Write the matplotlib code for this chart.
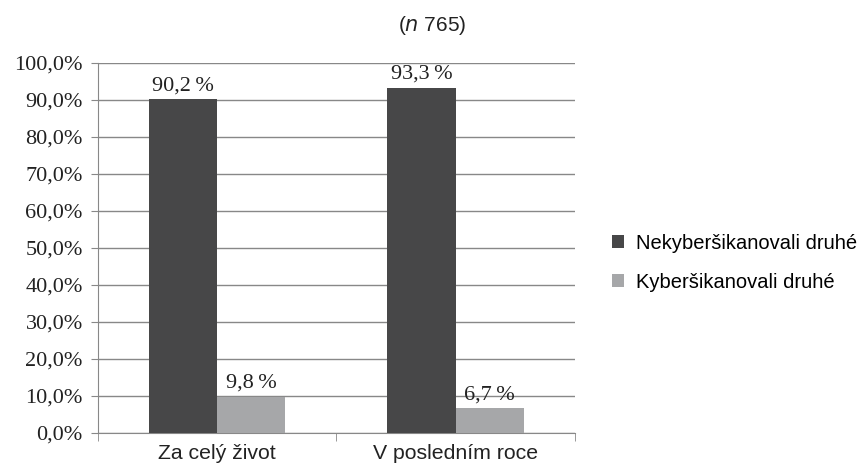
import numpy as np
import matplotlib
matplotlib.use("Agg")
import matplotlib.pyplot as plt
from matplotlib.ticker import FuncFormatter

categories = ["Za celý život", "V posledním roce"]
series_names = ["Nekyberšikanovali druhé", "Kyberšikanovali druhé"]
not_bullied = [90.2, 93.3]
bullied = [9.8, 6.7]
colors = ["#474748", "#a6a7a9"]

fig = plt.figure(figsize=(8.67, 4.65), dpi=100)
ax = fig.add_axes([0.113, 0.069, 0.55, 0.796])

x = np.arange(len(categories)) + 0.5
w = 0.286
b1 = ax.bar(x - w / 2, not_bullied, w, color=colors[0], label=series_names[0], zorder=3)
b2 = ax.bar(x + w / 2, bullied, w, color=colors[1], label=series_names[1], zorder=3)

for bars, vals in ((b1, not_bullied), (b2, bullied)):
    for r, v in zip(bars, vals):
        ax.text(r.get_x() + r.get_width() / 2, v + 1.0, ("%.1f" % v).replace(".", ",") + "\u2009%",
                ha="center", va="bottom", family="Liberation Serif", fontsize=16, color="#222222")

ax.set_xlim(0, 2)
ax.set_ylim(0, 100)
ax.set_yticks(np.arange(0, 101, 10))
ax.yaxis.set_major_formatter(FuncFormatter(lambda v, p: ("%.1f" % v).replace(".", ",") + "%"))
for lab in ax.get_yticklabels():
    lab.set_family("Liberation Serif")
ax.tick_params(axis="y", labelsize=16, length=5, color="#888888", labelcolor="#222222", pad=6)

ax.set_xticks(x)
ax.set_xticklabels(categories, family="Liberation Sans", fontsize=15.3, color="#222222")
ax.tick_params(axis="x", length=0, pad=8)
ax.set_xticks([0, 1, 2], minor=True)
ax.tick_params(axis="x", which="minor", length=6, color="#888888")

ax.grid(axis="y", color="#888888", linewidth=1, zorder=0)
for s in ["top", "right"]:
    ax.spines[s].set_visible(False)
for s in ["left", "bottom"]:
    ax.spines[s].set_color("#888888")

fig.text(0.498, 0.945, "($\\it{n}$ 765)", ha="center", va="center",
         family="Liberation Sans", fontsize=15, color="#222222")

fig.legend(handles=[b1, b2], loc="center left", bbox_to_anchor=(0.685, 0.435),
           frameon=False, prop={"family": "Liberation Sans", "size": 14.5},
           handlelength=0.6, handleheight=0.6, handletextpad=0.6, labelspacing=1.0)

fig.savefig("out.png", dpi=100)
